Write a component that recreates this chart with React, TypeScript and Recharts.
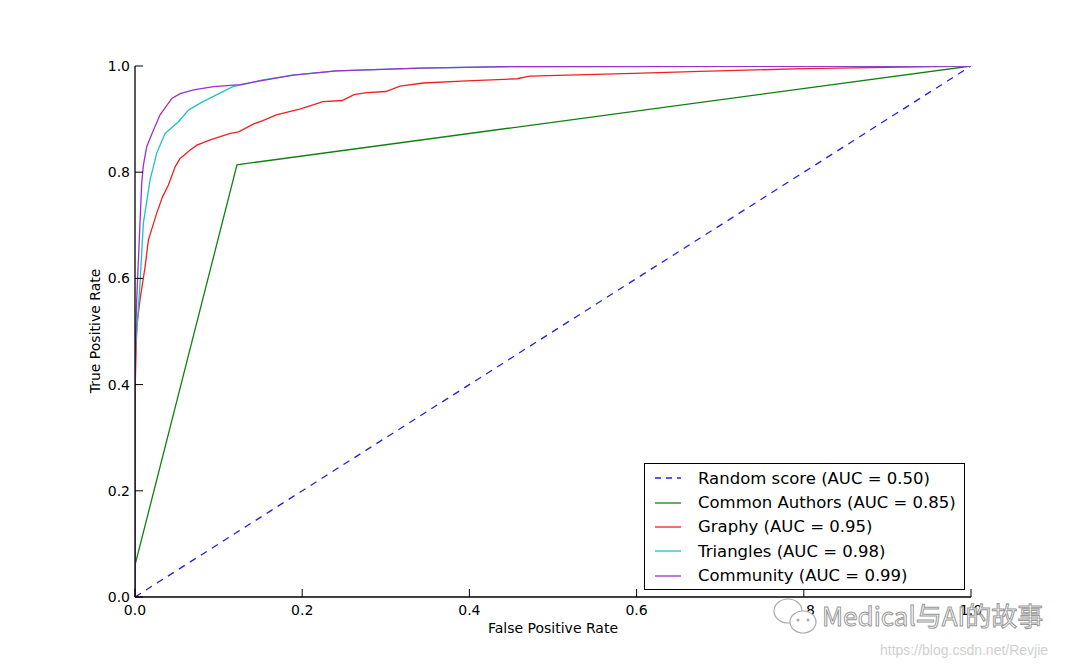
import { LineChart, Line, XAxis, YAxis } from 'recharts'

const TICKS = [0, 0.2, 0.4, 0.6, 0.8, 1.0]

const RANDOM_FPR = [0, 1]
const RANDOM_TPR = [0, 1]

const AUTHORS_FPR = [0, 0, 0.122, 1]
const AUTHORS_TPR = [0, 0.06, 0.814, 1]

const GRAPHY_FPR = [0, 0, 0.002, 0.006, 0.012, 0.016, 0.026, 0.033, 0.04, 0.048, 0.054, 0.066, 0.074, 0.09, 0.114, 0.124, 0.142, 0.153, 0.169, 0.197, 0.225, 0.248, 0.262, 0.277, 0.3, 0.317, 0.345, 0.397, 0.457, 0.472, 0.596, 0.676, 0.8, 1]
const GRAPHY_TPR = [0, 0.38, 0.508, 0.56, 0.621, 0.672, 0.723, 0.754, 0.776, 0.81, 0.826, 0.842, 0.851, 0.861, 0.873, 0.876, 0.891, 0.897, 0.908, 0.919, 0.933, 0.935, 0.946, 0.95, 0.952, 0.962, 0.968, 0.972, 0.976, 0.981, 0.986, 0.99, 0.995, 1]

const TRIANGLES_FPR = [0, 0, 0.006, 0.01, 0.018, 0.026, 0.036, 0.052, 0.064, 0.078, 0.098, 0.117, 0.134, 0.153, 0.189, 0.241, 0.341, 0.45, 1]
const TRIANGLES_TPR = [0, 0.45, 0.591, 0.704, 0.785, 0.836, 0.873, 0.895, 0.917, 0.93, 0.946, 0.961, 0.967, 0.974, 0.983, 0.991, 0.996, 0.999, 1]

const COMMUNITY_FPR = [0, 0, 0.002, 0.008, 0.01, 0.014, 0.022, 0.03, 0.044, 0.054, 0.07, 0.094, 0.126, 0.15, 0.189, 0.241, 0.341, 0.45, 1]
const COMMUNITY_TPR = [0, 0.45, 0.559, 0.779, 0.813, 0.848, 0.879, 0.908, 0.939, 0.948, 0.955, 0.961, 0.965, 0.972, 0.983, 0.991, 0.996, 0.999, 1]

const toPoints = (xs: number[], ys: number[]) => xs.map((x, i) => ({ fpr: x, tpr: ys[i] }))

const SERIES = [
  { name: 'Random score (AUC = 0.50)', color: '#2020e0', dash: '7 6', data: toPoints(RANDOM_FPR, RANDOM_TPR) },
  { name: 'Common Authors (AUC = 0.85)', color: '#108010', dash: undefined, data: toPoints(AUTHORS_FPR, AUTHORS_TPR) },
  { name: 'Graphy (AUC = 0.95)', color: '#f02020', dash: undefined, data: toPoints(GRAPHY_FPR, GRAPHY_TPR) },
  { name: 'Triangles (AUC = 0.98)', color: '#20c0c8', dash: undefined, data: toPoints(TRIANGLES_FPR, TRIANGLES_TPR) },
  { name: 'Community (AUC = 0.99)', color: '#9b30d0', dash: undefined, data: toPoints(COMMUNITY_FPR, COMMUNITY_TPR) },
]

const FONT = '"DejaVu Sans", sans-serif'

function BottomTick({ x, y, payload }: any) {
  return (
    <g>
      <line x1={x} y1={y} x2={x} y2={y - 8} stroke="#000" strokeWidth={1} />
      <text x={x} y={y + 18} textAnchor="middle" fontSize={14} fontFamily={FONT} fill="#000">
        {payload.value.toFixed(1)}
      </text>
    </g>
  )
}

function TopTick({ x, y }: any) {
  return <line x1={x} y1={y} x2={x} y2={y + 8} stroke="#000" strokeWidth={1} />
}

function LeftTick({ x, y, payload }: any) {
  return (
    <g>
      <line x1={x} y1={y} x2={x + 8} y2={y} stroke="#000" strokeWidth={1} />
      <text x={x - 5} y={y + 5} textAnchor="end" fontSize={14} fontFamily={FONT} fill="#000">
        {payload.value.toFixed(1)}
      </text>
    </g>
  )
}

function RightTick({ x, y }: any) {
  return <line x1={x} y1={y} x2={x - 8} y2={y} stroke="#000" strokeWidth={1} />
}

function RocLegend() {
  return (
    <div
      style={{
        position: 'absolute',
        left: 644,
        top: 463,
        border: '1px solid #000',
        background: '#fff',
        boxSizing: 'border-box',
        width: 321,
        height: 127,
        padding: '2px 0 0 0',
        fontFamily: FONT,
        fontSize: 16.5,
        color: '#000',
      }}
    >
      {SERIES.map((s) => (
        <div key={s.name} style={{ display: 'flex', alignItems: 'center', height: 24.4 }}>
          <svg width={50} height={10} style={{ flexShrink: 0 }}>
            <line x1={10} y1={5} x2={36} y2={5} stroke={s.color} strokeWidth={1.3} strokeDasharray={s.dash ? '6 5' : undefined} />
          </svg>
          <span style={{ marginLeft: 3, whiteSpace: 'nowrap' }}>{s.name}</span>
        </div>
      ))}
    </div>
  )
}

// watermark from the source image (wechat bubbles + account name)
function Watermark() {
  return (
    <>
      <svg width={50} height={42} style={{ position: 'absolute', left: 772, top: 595 }}>
        <ellipse cx={16} cy={16} rx={14} ry={12} fill="#fff" stroke="#aaa" strokeWidth={1.2} />
        <ellipse cx={31} cy={27} rx={13} ry={11} fill="#fff" stroke="#aaa" strokeWidth={1.2} />
        <circle cx={26} cy={25} r={1.5} fill="#aaa" />
        <circle cx={36} cy={25} r={1.5} fill="#aaa" />
      </svg>
      <div
        style={{
          position: 'absolute',
          left: 822,
          top: 602,
          fontFamily: '"Noto Sans CJK SC", sans-serif',
          fontSize: 26,
          color: '#fff',
          WebkitTextStroke: '1px #999',
          whiteSpace: 'nowrap',
          lineHeight: 1,
        }}
      >
        Medical与AI的故事
      </div>
      <div
        style={{
          position: 'absolute',
          left: 880,
          top: 642,
          fontFamily: '"Liberation Sans", Arial, sans-serif',
          fontSize: 14,
          color: '#d0d0d0',
          whiteSpace: 'nowrap',
        }}
      >
        https://blog.csdn.net/Revjie
      </div>
    </>
  )
}

export default function App() {
  return (
    <div style={{ position: 'absolute', left: 0, top: 0, width: 1080, height: 665, background: '#fff' }}>
      <LineChart width={1080} height={665} margin={{ top: 66, right: 109, bottom: 38, left: 85 }}>
        <XAxis
          xAxisId="b"
          type="number"
          dataKey="fpr"
          domain={[0, 1]}
          ticks={TICKS}
          height={30}
          tickSize={0}
          tickMargin={0}
          tickLine={false}
          tick={<BottomTick />}
          axisLine={{ stroke: '#000', strokeWidth: 1.3 }}
          allowDataOverflow
        />
        <XAxis
          xAxisId="t"
          orientation="top"
          type="number"
          dataKey="fpr"
          domain={[0, 1]}
          ticks={TICKS}
          height={0}
          tickSize={0}
          tickMargin={0}
          tickLine={false}
          tick={<TopTick />}
          axisLine={{ stroke: '#000', strokeWidth: 1.3 }}
        />
        <YAxis
          yAxisId="l"
          type="number"
          dataKey="tpr"
          domain={[0, 1]}
          ticks={TICKS}
          width={50}
          tickSize={0}
          tickMargin={0}
          tickLine={false}
          tick={<LeftTick />}
          axisLine={{ stroke: '#000', strokeWidth: 1.3 }}
          allowDataOverflow
        />
        <YAxis
          yAxisId="r"
          orientation="right"
          type="number"
          dataKey="tpr"
          domain={[0, 1]}
          ticks={TICKS}
          width={0}
          tickSize={0}
          tickMargin={0}
          tickLine={false}
          tick={<RightTick />}
          axisLine={{ stroke: '#000', strokeWidth: 1.3 }}
        />
        {SERIES.map((s) => (
          <Line
            key={s.name}
            xAxisId="b"
            yAxisId="l"
            data={s.data}
            dataKey="tpr"
            name={s.name}
            type="linear"
            stroke={s.color}
            strokeWidth={1.3}
            strokeDasharray={s.dash}
            dot={false}
            activeDot={false}
            isAnimationActive={false}
          />
        ))}
        <text x={553} y={633} textAnchor="middle" fontSize={14} fontFamily={FONT} fill="#000">
          False Positive Rate
        </text>
        <text
          x={100}
          y={331}
          textAnchor="middle"
          fontSize={14}
          fontFamily={FONT}
          fill="#000"
          transform="rotate(-90 100 331)"
        >
          True Positive Rate
        </text>
      </LineChart>
      <RocLegend />
      <Watermark />
    </div>
  )
}
